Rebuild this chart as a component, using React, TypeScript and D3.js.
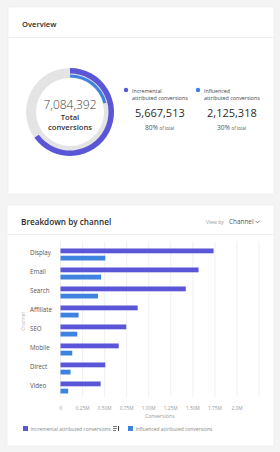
import React from "react";
import * as d3 from "d3";

const channels = ["Display", "Email", "Search", "Affiliate", "SEO", "Mobile", "Direct", "Video"];
const incremental = [1.735, 1.565, 1.42, 0.875, 0.745, 0.66, 0.508, 0.455];
const influenced = [0.508, 0.46, 0.425, 0.205, 0.19, 0.133, 0.114, 0.087];
const tickValues = [0, 0.25, 0.5, 0.75, 1.0, 1.25, 1.5, 1.75, 2.0, 2.25];
const tickLabels = ["0", "0.25M", "0.50M", "0.75M", "1.00M", "1.25M", "1.50M", "1.75M", "2.0M", ""];
const seriesNames = ["Incremental attributed conversions", "Influenced attributed conversions"];
const totalConversions = "7,084,392";
const seriesTotals = ["5,667,513", "2,125,318"];
const seriesPct = ["80%", "30%"];
const arcShare = [0.65, 0.21];

const PURPLE = "#5b55d8";
const BLUE = "#3f83e0";
const FONT = "'Open Sans', 'Noto Sans', sans-serif";

export default function App() {
  const x = d3.scaleLinear().domain([0, 2.25]).range([60.5, 259]);
  const y = d3.scaleBand().domain(channels).range([245.5, 397.5]).paddingInner(0).paddingOuter(0);

  const cx = 70, cy = 112;
  const ring = d3.arc<any>();
  const bg = ring({ innerRadius: 34, outerRadius: 44, startAngle: 0, endAngle: Math.PI * 2 } as any) || "";
  const arcPurple = ring({ innerRadius: 38.5, outerRadius: 44, startAngle: 0, endAngle: Math.PI * 2 * arcShare[0] } as any) || "";
  const arcBlue = ring({ innerRadius: 34.5, outerRadius: 37.6, startAngle: 0, endAngle: Math.PI * 2 * arcShare[1] } as any) || "";

  return (
    <svg width={280} height={452} style={{ position: "fixed", left: 0, top: 0, display: "block" }} fontFamily={FONT}>
      <rect width={280} height={452} fill="#f4f4f4" />
      {/* Card 1 */}
      <rect x={8} y={7} width={266} height={187} fill="#fff" stroke="#ececec" strokeWidth={0.6} />
      <text x={22} y={26.5} fontSize={7.6} fontWeight={600} fill="#2c2c2c">Overview</text>
      <line x1={8} x2={274} y1={37.5} y2={37.5} stroke="#efefef" strokeWidth={1} />

      <g transform={`translate(${cx},${cy})`}>
        <path d={bg} fill="#e4e4e4" />
        <path d={arcPurple} fill={PURPLE} />
        <path d={arcBlue} fill={BLUE} />
        <text y={-3.5} textAnchor="middle" fontSize={12} fontWeight={300} fill="#444">{totalConversions}</text>
        <text y={8} textAnchor="middle" fontSize={7.6} fontWeight={600} fill="#333">Total</text>
        <text y={18} textAnchor="middle" fontSize={7.6} fontWeight={600} fill="#333">conversions</text>
      </g>

      {[0, 1].map((i) => {
        const lx = i === 0 ? 126 : 198;
        const words = seriesNames[i].split(" ");
        return (
          <g key={i}>
            <circle cx={lx} cy={90} r={2.2} fill={i === 0 ? PURPLE : BLUE} />
            <text x={lx + 6} y={92.5} fontSize={5.3} fill="#444">{words[0]}</text>
            <text x={lx + 6} y={100} fontSize={5.3} fill="#444">{words.slice(1).join(" ")}</text>
            <text x={lx + 9} y={117} fontSize={11} fill="#2c2c2c">{seriesTotals[i]}</text>
            <text x={lx + 19} y={129.5} fontSize={6.6} fill="#555">
              {seriesPct[i]}
              <tspan fontSize={4.4} dx={1.5}>of total</tspan>
            </text>
          </g>
        );
      })}

      {/* Card 2 */}
      <rect x={7} y={205} width={267} height={241} fill="#fff" stroke="#ececec" strokeWidth={0.6} />
      <text x={21} y={225} fontSize={8.2} fontWeight={600} fill="#2c2c2c">Breakdown by channel</text>
      <text x={206} y={224} fontSize={5} fill="#999">View by</text>
      <text x={229} y={224} fontSize={6.4} fill="#555">Channel</text>
      <path d="M255.5,220.8 L257.5,222.8 L259.5,220.8" fill="none" stroke="#666" strokeWidth={0.8} />
      <line x1={7} x2={274} y1={234.5} y2={234.5} stroke="#efefef" strokeWidth={1} />

      {tickValues.map((t) => (
        <line key={t} x1={x(t)} x2={x(t)} y1={241.5} y2={397} stroke="#e9e9ee" strokeWidth={0.7} />
      ))}
      {tickValues.map((t, i) => (
        <text key={"l" + t} x={x(t)} y={409.5} fontSize={4.8} fill="#999" textAnchor="middle">{tickLabels[i]}</text>
      ))}
      <text x={(x(0) + x(2.25)) / 2} y={418} fontSize={5.2} fill="#999" textAnchor="middle">Conversions</text>
      <text transform={`translate(24.5,${(245.5 + 397.5) / 2}) rotate(-90)`} fontSize={4.8} fill="#aaa" textAnchor="middle">Channel</text>

      {channels.map((c, i) => {
        const by = y(c) as number;
        return (
          <g key={c}>
            <text x={30} y={by + 9.8} fontSize={6.2} fill="#555">{c}</text>
            <rect x={x(0)} y={by + 3} width={x(incremental[i]) - x(0)} height={4.8} fill={PURPLE} />
            <rect x={x(0)} y={by + 10.2} width={x(influenced[i]) - x(0)} height={4.8} fill={BLUE} />
          </g>
        );
      })}

      {/* Legend */}
      <rect x={23} y={426} width={5} height={5} fill={PURPLE} />
      <text x={30.5} y={430.7} fontSize={4.9} fill="#888">{seriesNames[0]}</text>
      <g stroke="#444" strokeWidth={0.7}>
        <line x1={113} x2={117} y1={426.5} y2={426.5} />
        <line x1={113} x2={117} y1={428.5} y2={428.5} />
        <line x1={113} x2={116} y1={430.5} y2={430.5} />
        <line x1={118.5} x2={118.5} y1={426} y2={431} strokeWidth={1} />
      </g>
      <rect x={128} y={426} width={5} height={5} fill={BLUE} />
      <text x={135.5} y={430.7} fontSize={4.9} fill="#888">{seriesNames[1]}</text>
    </svg>
  );
}
